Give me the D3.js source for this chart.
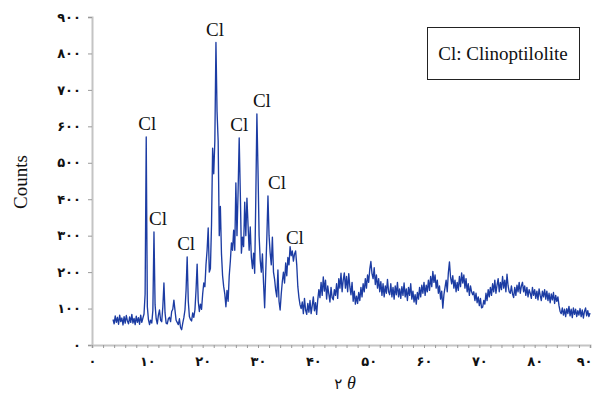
<!DOCTYPE html>
<html>
<head>
<meta charset="utf-8">
<script src="https://cdn.jsdelivr.net/npm/d3@7"></script>
<style>
  body { margin: 0; background: #fff; }
  svg { display: block; }
</style>
</head>
<body>
<div id="chart"></div>
<script>
// XRD pattern, 2θ from 3.8° in steps of 0.2°
const thetaStart = 3.8;
const thetaStep = 0.2;
const counts = [
  70, 58, 80, 62, 76, 57, 82, 64, 74, 55, 78,          // 3.8 - 5.8
  60, 81, 66, 58, 77, 62, 84, 60, 73, 56,              // 6.0 - 7.8
  79, 62, 75, 57, 82, 62, 74, 85, 140, 571,            // 8.0 - 9.8
  105, 70, 56, 68, 60, 95, 310, 110, 72, 58,           // 10.0 - 11.8
  82, 96, 68, 64, 105, 170, 88, 60, 58, 72,            // 12.0 - 13.8
  76, 64, 92, 98, 123, 95, 68, 62, 56, 72,             // 14.0 - 15.8
  48, 42, 60, 75, 96, 150, 242, 120, 78, 70,           // 16.0 - 17.8
  66, 88, 76, 96, 150, 222, 120, 92, 112, 98,          // 18.0 - 19.8
  140, 170, 160, 220, 260, 321, 200, 210, 330, 540,    // 20.0 - 21.8
  470, 560, 830, 640, 560, 300, 380, 250, 190, 160,    // 22.0 - 23.8
  140, 105, 150, 120, 190, 230, 280, 260, 315, 260,    // 24.0 - 25.8
  445, 300, 420, 568, 420, 252, 296, 270, 392, 300,    // 26.0 - 27.8
  403, 330, 260, 324, 240, 210, 252, 197, 400, 634,    // 28.0 - 29.8
  480, 300, 233, 200, 250, 170, 102, 200, 296, 409,    // 30.0 - 31.8
  300, 252, 220, 296, 200, 180, 150, 132, 206, 120,    // 32.0 - 33.8
  96, 140, 175, 200, 170, 225, 190, 240, 220, 270,     // 34.0 - 35.8
  245, 258, 230, 250, 258, 220, 160, 130, 110, 100,    // 36.0 - 37.8
  118, 86, 128, 96, 84, 114, 90, 122, 86, 108,         // 38.0 - 39.8
  132, 94, 116, 84, 124, 152, 130, 172, 136, 187,      // 40.0 - 41.8
  148, 178, 126, 162, 140, 118, 158, 130, 124, 152,    // 42.0 - 43.8
  136, 168, 128, 182, 156, 197, 146, 178, 198, 156,    // 44.0 - 45.8
  188, 146, 196, 160, 138, 172, 120, 148, 112, 134,    // 46.0 - 47.8
  114, 144, 122, 158, 132, 168, 146, 182, 156, 192,    // 48.0 - 49.8
  172, 208, 229, 196, 182, 212, 166, 192, 156, 182,    // 50.0 - 51.8
  146, 174, 136, 168, 132, 162, 142, 180, 146, 138,    // 52.0 - 53.8
  168, 132, 158, 126, 162, 138, 172, 132, 154, 128,    // 54.0 - 55.8
  160, 136, 170, 132, 154, 122, 158, 136, 168, 126,    // 56.0 - 57.8
  148, 118, 138, 112, 144, 126, 158, 132, 164, 142,    // 58.0 - 59.8
  172, 136, 164, 146, 178, 150, 188, 160, 202, 172,    // 60.0 - 61.8
  192, 156, 178, 142, 162, 126, 148, 101, 138, 158,    // 62.0 - 63.8
  178, 146, 198, 228, 186, 168, 190, 156, 178, 146,    // 64.0 - 65.8
  172, 150, 188, 160, 198, 170, 192, 156, 182, 146,    // 66.0 - 67.8
  168, 136, 162, 146, 138, 146, 122, 142, 116, 132,    // 68.0 - 69.8
  108, 128, 102, 104, 122, 112, 142, 122, 152, 132,    // 70.0 - 71.8
  158, 136, 168, 146, 178, 142, 164, 182, 146, 172,    // 72.0 - 73.8
  152, 188, 156, 178, 146, 194, 162, 146, 142, 162,    // 74.0 - 75.8
  140, 130, 158, 136, 164, 146, 172, 142, 162, 172,    // 76.0 - 77.8
  146, 162, 136, 158, 132, 152, 142, 128, 158, 136,    // 78.0 - 79.8
  152, 128, 148, 124, 154, 136, 122, 148, 132, 152,    // 80.0 - 81.8
  126, 148, 122, 142, 116, 140, 124, 144, 114, 136,    // 82.0 - 83.8
  120, 132, 108, 92, 86, 102, 82, 98, 78, 100,         // 84.0 - 85.8
  86, 106, 80, 98, 75, 102, 84, 98, 78, 94,            // 86.0 - 87.8
  82, 100, 78, 96, 74, 92, 102, 80, 94, 78,            // 88.0 - 89.8
  88                                                   // 90.0
];

// labelled clinoptilolite peaks
const peakTheta = [9.8, 11.2, 17.2, 22.4, 26.6, 29.8, 32.0, 36.3];
const peakCounts = [571, 310, 242, 830, 568, 634, 409, 258];
const peakLabel = 'Cl';

const xTicks = d3.range(0, 91, 10);
const xMinorTicks = d3.range(0, 91, 2);
const yTicks = d3.range(0, 901, 100);

const legendText = 'Cl: Clinoptilolite';
const yTitle = 'Counts';

const width = 592;
const height = 397;

const faDigits = '۰۱۲۳۴۵۶۷۸۹';
const toFa = n => String(n).replace(/\d/g, d => faDigits[+d]);

const data = counts.map((c, i) => ({ t: thetaStart + i * thetaStep, c: c }));

const x = d3.scaleLinear().domain([0, 90]).range([92, 590]);
const y = d3.scaleLinear().domain([0, 900]).range([345, 17]);

const svg = d3.select('#chart').append('svg')
  .attr('width', width)
  .attr('height', height);

// y axis
svg.append('g')
  .attr('transform', `translate(${x(0)},0)`)
  .call(d3.axisLeft(y).tickValues(yTicks).tickSize(4).tickPadding(7).tickFormat(toFa));

// x axis (minor ticks, then labels)
svg.append('g')
  .attr('transform', `translate(0,${y(0)})`)
  .call(d3.axisBottom(x).tickValues(xMinorTicks).tickSize(3).tickFormat(''));

svg.append('g')
  .attr('class', 'xlabels')
  .attr('transform', `translate(0,${y(0)})`)
  .call(d3.axisBottom(x).tickValues(xTicks).tickSize(0).tickPadding(12).tickFormat(toFa))
  .call(g => g.select('.domain').remove());

svg.selectAll('.domain')
  .attr('stroke', '#c4c4c4')
  .attr('stroke-width', 2);
svg.selectAll('.tick line').attr('stroke', '#9a9a9a');
svg.selectAll('.tick text')
  .attr('fill', '#111')
  .style('font-family', '"DejaVu Sans", sans-serif')
  .style('font-size', '13px')
  .style('font-weight', 'bold');

// keep the last x label inside the picture
svg.selectAll('.xlabels .tick text')
  .filter(d => d === 90)
  .attr('text-anchor', 'end')
  .attr('dx', 2);

// pattern
const line = d3.line()
  .x(d => x(d.t))
  .y(d => y(d.c));

svg.append('path')
  .datum(data)
  .attr('fill', 'none')
  .attr('stroke', '#1c3ca3')
  .attr('stroke-width', 1.35)
  .attr('stroke-linejoin', 'round')
  .attr('d', line);

// peak labels
const labelDx = [1, 4, -1, -1, 0, 5, 8, 2];
svg.selectAll('.peak')
  .data(peakTheta)
  .enter().append('text')
  .attr('class', 'peak')
  .attr('x', (d, i) => x(d) + labelDx[i])
  .attr('y', (d, i) => y(peakCounts[i]) - 7)
  .attr('text-anchor', 'middle')
  .style('font-family', '"Liberation Serif", serif')
  .style('font-size', '19px')
  .attr('fill', '#111')
  .text(peakLabel);

// legend
svg.append('rect')
  .attr('x', 427.5)
  .attr('y', 27.5)
  .attr('width', 152)
  .attr('height', 52)
  .attr('fill', '#fff')
  .attr('stroke', '#222')
  .attr('stroke-width', 1);

svg.append('text')
  .attr('x', 503)
  .attr('y', 60)
  .attr('text-anchor', 'middle')
  .style('font-family', '"Liberation Serif", serif')
  .style('font-size', '19px')
  .attr('fill', '#111')
  .text(legendText);

// axis titles
svg.append('text')
  .attr('x', 345)
  .attr('y', 389)
  .attr('text-anchor', 'middle')
  .style('font-family', '"DejaVu Sans", sans-serif')
  .style('font-size', '15px')
  .attr('fill', '#111')
  .text(toFa(2) + ' ')
  .append('tspan')
  .style('font-family', '"Liberation Serif", serif')
  .style('font-style', 'italic')
  .style('font-size', '18px')
  .text('θ');

svg.append('text')
  .attr('transform', 'translate(27,182) rotate(-90)')
  .attr('text-anchor', 'middle')
  .style('font-family', '"Liberation Serif", serif')
  .style('font-size', '19px')
  .attr('fill', '#111')
  .text(yTitle);
</script>
</body>
</html>
